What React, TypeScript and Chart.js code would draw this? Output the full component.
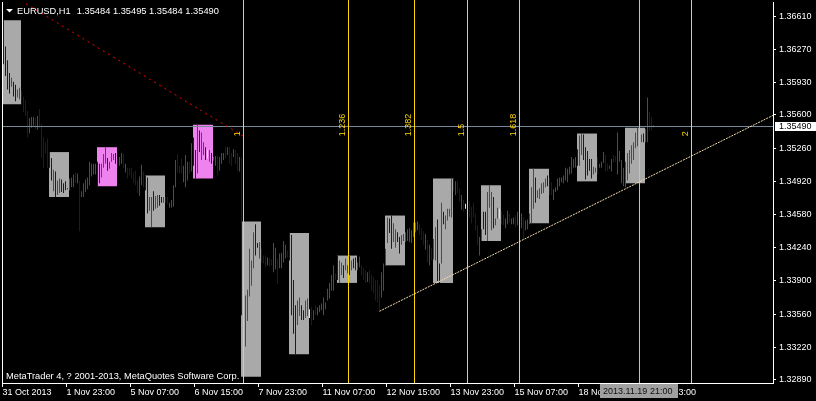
import React, { useEffect, useRef } from 'react';
import { Chart, registerables } from 'chart.js';

Chart.register(...registerables);

// ---------------- data ----------------
const symbolTitle = 'EURUSD,H1';
const lastBarQuote = ['1.35484', '1.35495', '1.35484', '1.35490'];
const copyrightNote = 'MetaTrader 4, ? 2001-2013, MetaQuotes Software Corp.';

// H1 bars, index 0 = 31 Oct 2013 15:00
const barHighs = [
  1.3657, 1.3630, 1.3616, 1.3603, 1.3598, 1.3594, 1.3591, 1.3586, 1.3588, 1.3585,
  1.3579, 1.3575, 1.3564, 1.3557, 1.3558, 1.3558, 1.3557, 1.3559, 1.3566, 1.3551,
  1.3537, 1.3532, 1.3536, 1.3522, 1.3516, 1.3504, 1.3502, 1.3493, 1.3495, 1.3494,
  1.3490, 1.3492, 1.3485, 1.3495, 1.3496, 1.3499, 1.3501, 1.3500, 1.3493, 1.3482,
  1.3490, 1.3494, 1.3496, 1.3512, 1.3510, 1.3510, 1.3510, 1.3512, 1.3510, 1.3510,
  1.3520, 1.3527, 1.3516, 1.3512, 1.3521, 1.3520, 1.3521, 1.3515, 1.3517, 1.3521,
  1.3520, 1.3510, 1.3506, 1.3506, 1.3506, 1.3501, 1.3503, 1.3493, 1.3497, 1.3509,
  1.3502, 1.3498, 1.3496, 1.3476, 1.3476, 1.3482, 1.3477, 1.3478, 1.3478, 1.3476,
  1.3476, 1.3476, 1.3476, 1.3470, 1.3473, 1.3488, 1.3514, 1.3520, 1.3508, 1.3515,
  1.3508, 1.3519, 1.3512, 1.3512, 1.3531, 1.3537, 1.3524, 1.3550, 1.3544, 1.3542,
  1.3532, 1.3527, 1.3524, 1.3524, 1.3521, 1.3517, 1.3518, 1.3519, 1.3517, 1.3521,
  1.3521, 1.3528, 1.3527, 1.3527, 1.3521, 1.3525, 1.3524, 1.3521, 1.3517, 1.3516,
  1.3451, 1.3375, 1.3381, 1.3423, 1.3411, 1.3440, 1.3448, 1.3429, 1.3430, 1.3423,
  1.3416, 1.3416, 1.3414, 1.3413, 1.3412, 1.3429, 1.3424, 1.3413, 1.3418, 1.3419,
  1.3431, 1.3427, 1.3421, 1.3440, 1.3437, 1.3391, 1.3365, 1.3370, 1.3373, 1.3365,
  1.3360, 1.3370, 1.3372, 1.3361, 1.3363, 1.3360, 1.3365, 1.3363, 1.3365, 1.3367,
  1.3373, 1.3368, 1.3382, 1.3388, 1.3396, 1.3406, 1.3398, 1.3416, 1.3411, 1.3409,
  1.3406, 1.3413, 1.3406, 1.3416, 1.3411, 1.3413, 1.3414, 1.3409, 1.3415, 1.3406,
  1.3403, 1.3401, 1.3399, 1.3401, 1.3396, 1.3394, 1.3391, 1.3391, 1.3386, 1.3399,
  1.3408, 1.3423, 1.3455, 1.3454, 1.3457, 1.3449, 1.3443, 1.3440, 1.3435, 1.3437,
  1.3438, 1.3440, 1.3443, 1.3444, 1.3442, 1.3450, 1.3450, 1.3451, 1.3448, 1.3444,
  1.3441, 1.3438, 1.3432, 1.3427, 1.3424, 1.3433, 1.3445, 1.3453, 1.3408, 1.3470,
  1.3461, 1.3457, 1.3464, 1.3464, 1.3495, 1.3496, 1.3492, 1.3492, 1.3485, 1.3478,
  1.3473, 1.3469, 1.3471, 1.3472, 1.3466, 1.3470, 1.3459, 1.3447, 1.3435, 1.3443,
  1.3461, 1.3461, 1.3481, 1.3488, 1.3481, 1.3476, 1.3454, 1.3465, 1.3464, 1.3462,
  1.3458, 1.3454, 1.3462, 1.3459, 1.3454, 1.3455, 1.3457, 1.3461, 1.3460, 1.3459,
  1.3455, 1.3452, 1.3453, 1.3459, 1.3486, 1.3505, 1.3496, 1.3483, 1.3485, 1.3490,
  1.3491, 1.3495, 1.3498, 1.3496, 1.3491, 1.3484, 1.3486, 1.3495, 1.3496, 1.3496,
  1.3498, 1.3506, 1.3505, 1.3507, 1.3517, 1.3515, 1.3517, 1.3525, 1.3539, 1.3541,
  1.3540, 1.3527, 1.3523, 1.3515, 1.3515, 1.3507, 1.3506, 1.3517, 1.3510, 1.3512,
  1.3522, 1.3519, 1.3510, 1.3508, 1.3515, 1.3519, 1.3518, 1.3542, 1.3523, 1.3514,
  1.3506, 1.3512, 1.3521, 1.3524, 1.3529, 1.3532, 1.3542, 1.3547, 1.3544, 1.3540,
  1.3541, 1.3546, 1.3578, 1.3563, 1.3558, 1.35495,
];

const barLows = [
  1.3612, 1.3600, 1.3586, 1.3582, 1.3589, 1.3579, 1.3574, 1.3578, 1.3576, 1.3571,
  1.3563, 1.3559, 1.3537, 1.3541, 1.3547, 1.3549, 1.3545, 1.3545, 1.3547, 1.3516,
  1.3506, 1.3521, 1.3506, 1.3506, 1.3493, 1.3482, 1.3476, 1.3478, 1.3480, 1.3481,
  1.3480, 1.3483, 1.3484, 1.3483, 1.3486, 1.3486, 1.3490, 1.3490, 1.3441, 1.3476,
  1.3476, 1.3481, 1.3484, 1.3488, 1.3497, 1.3499, 1.3499, 1.3487, 1.3490, 1.3496,
  1.3506, 1.3510, 1.3503, 1.3505, 1.3512, 1.3514, 1.3510, 1.3506, 1.3508, 1.3510,
  1.3506, 1.3501, 1.3495, 1.3498, 1.3495, 1.3490, 1.3488, 1.3480, 1.3477, 1.3488,
  1.3486, 1.3483, 1.3459, 1.3462, 1.3445, 1.3462, 1.3464, 1.3465, 1.3467, 1.3470,
  1.3470, 1.3470, 1.3469, 1.3465, 1.3465, 1.3466, 1.3486, 1.3501, 1.3500, 1.3500,
  1.3491, 1.3486, 1.3493, 1.3500, 1.3502, 1.3508, 1.3495, 1.3500, 1.3522, 1.3514,
  1.3519, 1.3514, 1.3516, 1.3512, 1.3510, 1.3513, 1.3508, 1.3498, 1.3503, 1.3510,
  1.3514, 1.3516, 1.3519, 1.3510, 1.3508, 1.3517, 1.3510, 1.3503, 1.3502, 1.3355,
  1.3292, 1.3323, 1.3349, 1.3374, 1.3385, 1.3403, 1.3416, 1.3424, 1.3413, 1.3409,
  1.3408, 1.3404, 1.3406, 1.3405, 1.3406, 1.3399, 1.3402, 1.3387, 1.3403, 1.3403,
  1.3409, 1.3413, 1.3414, 1.3411, 1.3355, 1.3336, 1.3315, 1.3345, 1.3354, 1.3350,
  1.3350, 1.3352, 1.3354, 1.3352, 1.3345, 1.3350, 1.3355, 1.3355, 1.3358, 1.3360,
  1.3355, 1.3361, 1.3370, 1.3372, 1.3380, 1.3380, 1.3391, 1.3391, 1.3388, 1.3396,
  1.3393, 1.3401, 1.3398, 1.3396, 1.3401, 1.3403, 1.3401, 1.3401, 1.3404, 1.3396,
  1.3391, 1.3388, 1.3389, 1.3388, 1.3380, 1.3378, 1.3370, 1.3368, 1.3359, 1.3373,
  1.3380, 1.3406, 1.3429, 1.3439, 1.3423, 1.3430, 1.3424, 1.3430, 1.3418, 1.3427,
  1.3431, 1.3430, 1.3431, 1.3430, 1.3429, 1.3435, 1.3440, 1.3442, 1.3437, 1.3432,
  1.3427, 1.3422, 1.3409, 1.3406, 1.3411, 1.3412, 1.3411, 1.3390, 1.3388, 1.3408,
  1.3448, 1.3443, 1.3452, 1.3456, 1.3455, 1.3482, 1.3478, 1.3480, 1.3471, 1.3463,
  1.3461, 1.3464, 1.3460, 1.3455, 1.3449, 1.3455, 1.3442, 1.3427, 1.3416, 1.3431,
  1.3443, 1.3437, 1.3431, 1.3465, 1.3442, 1.3444, 1.3447, 1.3454, 1.3454, 1.3448,
  1.3447, 1.3444, 1.3448, 1.3450, 1.3448, 1.3448, 1.3445, 1.3447, 1.3445, 1.3444,
  1.3433, 1.3442, 1.3443, 1.3448, 1.3449, 1.3464, 1.3470, 1.3475, 1.3474, 1.3479,
  1.3480, 1.3486, 1.3487, 1.3478, 1.3478, 1.3473, 1.3481, 1.3483, 1.3487, 1.3491,
  1.3490, 1.3493, 1.3491, 1.3499, 1.3500, 1.3506, 1.3506, 1.3508, 1.3508, 1.3519,
  1.3514, 1.3494, 1.3498, 1.3503, 1.3495, 1.3499, 1.3501, 1.3499, 1.3506, 1.3506,
  1.3511, 1.3502, 1.3503, 1.3505, 1.3502, 1.3511, 1.3512, 1.3499, 1.3512, 1.3490,
  1.3487, 1.3486, 1.3493, 1.3500, 1.3510, 1.3514, 1.3526, 1.3528, 1.3534, 1.3532,
  1.3532, 1.3532, 1.3532, 1.3544, 1.3544, 1.35484,
];

// u = close above open (red), d = close below open (blue), n = unchanged (yellow)
const barDirections =
  'ddddudduud' + 'ddduuududd' + 'ddddduduud' + 'ddduuududu' + 'uuuuuuuddu' +
  'uuduuudduu' + 'dudddddduu' + 'ddduuduudd' + 'udduuuuddd' + 'uuududdudu' +
  'udnuduuduu' + 'ududduddud' + 'duuuuuddud' + 'ddudduuduu' + 'uuddddduud' +
  'duunduduuu' + 'uuuuuudduu' + 'duududduud' + 'dduddddddu' + 'uuudduuddu' +
  'uuuuuuuudd' + 'dududuuddu' + 'duuuududdu' + 'dndddddduu' + 'dduuuduund' +
  'duuduuduuu' + 'duuuuuduuu' + 'uuddduuuuu' + 'uuuuuuuduu' + 'ddddduuduu' +
  'udduudduuu' + 'uuuuuuuuuu' + 'duuddu';

// 14:00-24:00 session boxes
const sessionStartBars = [-1, 23, 47, 71, 95, 119, 143, 167, 191, 215, 239, 263, 287, 311];
const sessionHighs = [1.3657, 1.3522, 1.3527, 1.3498, 1.3550, 1.3451, 1.3439, 1.3416, 1.3457, 1.3495, 1.3488, 1.3505, 1.3541, 1.3547];
const sessionLows = [1.3571, 1.3476, 1.3487, 1.3445, 1.3495, 1.3292, 1.3315, 1.3388, 1.3406, 1.3388, 1.3431, 1.3449, 1.3492, 1.3490];
const sessionKinds = 'ggpgpggggggggg';

const priceTicks = [1.3661, 1.3627, 1.3593, 1.356, 1.3526, 1.3492, 1.3458, 1.3424, 1.339, 1.3356, 1.3322, 1.3289];
const timeTickBars = [0, 32, 64, 96, 128, 160, 192, 224, 256, 288, 320];
const timeTickLabels = [
  '31 Oct 2013', '1 Nov 23:00', '5 Nov 07:00', '6 Nov 15:00', '7 Nov 23:00', '11 Nov 07:00',
  '12 Nov 15:00', '13 Nov 23:00', '15 Nov 07:00', '18 Nov 15:00', '19 Nov 23:00',
];

const bidPrice = 1.3549;
const fibAnchorBars = [-104, 120];
const fibAnchorPrices = [1.38177, 1.35381];
const fibLevels = [0, 1, 1.236, 1.382, 1.5, 1.618, 2];
const trendAnchorBars = [188, 322];
const trendAnchorPrices = [1.3359, 1.34956];
const cursorBar = 318;
const cursorTimeLabel = '2013.11.19 21:00';

// ---------------- styling ----------------
const FONT = "'Liberation Sans', Arial, sans-serif";
const C = {
  up: '#FF0000',
  down: '#0000FF',
  flat: '#FFFF00',
  boxGray: '#A9A9A9',
  boxPink: '#EE82EE',
  fib: '#FFD700',
  fibBase: '#FF0000',
  trend: '#F5DEB3',
  bid: '#778899',
  cursor: '#C0C0C0',
  fg: '#FFFFFF',
};

const mt4Plugin = {
  id: 'mt4Plugin',
  beforeDraw(chart: any) {
    const { ctx, width, height } = chart;
    ctx.save();
    ctx.fillStyle = '#000000';
    ctx.fillRect(0, 0, width, height);
    ctx.restore();
  },
  afterDatasetsDraw(chart: any) {
    const { ctx, chartArea: a } = chart;
    const xs = chart.scales.x;
    const ys = chart.scales.y;
    const col = (v: number) => Math.floor(xs.getPixelForValue(v) - 0.5);

    ctx.save();
    ctx.beginPath();
    ctx.rect(a.left, 0, a.right - a.left, a.bottom);
    ctx.clip();

    // bid line
    const by = Math.round(ys.getPixelForValue(bidPrice));
    ctx.fillStyle = C.bid;
    ctx.fillRect(a.left, by, a.right - a.left, 1);

    // fibonacci time zones
    const span = fibAnchorBars[1] - fibAnchorBars[0];
    ctx.fillStyle = C.fib;
    fibLevels.forEach((l) => {
      ctx.fillRect(col(fibAnchorBars[0] + l * span), 0, 1, a.bottom);
    });

    // fib base line (dotted red)
    ctx.save();
    ctx.beginPath();
    ctx.rect(a.left, a.top, a.right - a.left, a.bottom - a.top);
    ctx.clip();
    ctx.strokeStyle = C.fibBase;
    ctx.lineWidth = 1;
    ctx.setLineDash([2, 4]);
    ctx.beginPath();
    ctx.moveTo(xs.getPixelForValue(fibAnchorBars[0]), ys.getPixelForValue(fibAnchorPrices[0]));
    ctx.lineTo(xs.getPixelForValue(fibAnchorBars[1]), ys.getPixelForValue(fibAnchorPrices[1]));
    ctx.stroke();

    // trend line (ray)
    const tx1 = xs.getPixelForValue(trendAnchorBars[0]);
    const ty1 = ys.getPixelForValue(trendAnchorPrices[0]);
    const tx2 = xs.getPixelForValue(trendAnchorBars[1]);
    const ty2 = ys.getPixelForValue(trendAnchorPrices[1]);
    const slope = (ty2 - ty1) / (tx2 - tx1);
    ctx.strokeStyle = C.trend;
    ctx.setLineDash([2, 1]);
    ctx.beginPath();
    ctx.moveTo(tx1, ty1);
    ctx.lineTo(a.right, ty1 + slope * (a.right - tx1));
    ctx.stroke();
    ctx.restore();

    // fib labels
    ctx.font = `9px ${FONT}`;
    ctx.fillStyle = C.fib;
    const ly = ys.getPixelForValue(fibAnchorPrices[1]);
    fibLevels.forEach((l) => {
      const c = col(fibAnchorBars[0] + l * span);
      ctx.save();
      ctx.translate(c - 3, ly);
      ctx.rotate(-Math.PI / 2);
      ctx.textAlign = 'left';
      ctx.textBaseline = 'alphabetic';
      ctx.fillText(String(l), 0, 0);
      ctx.restore();
    });

    // cursor line
    ctx.fillStyle = C.cursor;
    ctx.fillRect(col(cursorBar), 0, 1, a.bottom);
    ctx.restore();

    // left frame line
    ctx.fillStyle = C.fg;
    ctx.fillRect(a.left, a.top, 1, a.bottom - a.top);
  },
  afterDraw(chart: any) {
    const { ctx, chartArea: a } = chart;
    const xs = chart.scales.x;
    const ys = chart.scales.y;
    ctx.save();

    // title
    ctx.fillStyle = C.fg;
    ctx.beginPath();
    ctx.moveTo(6, 9);
    ctx.lineTo(13, 9);
    ctx.lineTo(9.5, 12.5);
    ctx.closePath();
    ctx.fill();
    ctx.font = `9.3px ${FONT}`;
    ctx.textAlign = 'left';
    ctx.textBaseline = 'alphabetic';
    ctx.fillText(symbolTitle, 17, 14);
    const qx = 17 + ctx.measureText(symbolTitle).width + 6;
    ctx.fillText(lastBarQuote.join(' '), qx, 14);

    // copyright
    ctx.fillText(copyrightNote, 6, 379);

    // bid price label
    const by = Math.round(ys.getPixelForValue(bidPrice));
    ctx.fillStyle = '#FFFFFF';
    ctx.fillRect(a.right + 2, by - 4, chart.width - a.right - 2, 9);
    ctx.fillStyle = '#000000';
    ctx.font = `9px ${FONT}`;
    ctx.textBaseline = 'middle';
    ctx.fillText(bidPrice.toFixed(5), a.right + 6, by + 0.5);

    // cursor time label
    const cx = Math.floor(xs.getPixelForValue(cursorBar) - 0.5);
    ctx.fillStyle = '#A0A0A0';
    ctx.fillRect(cx - 39, a.bottom + 1, 78, 14);
    ctx.fillStyle = '#101010';
    ctx.fillText(cursorTimeLabel, cx - 36, a.bottom + 8.5);

    ctx.restore();
  },
};

export default function App() {
  const ref = useRef<HTMLCanvasElement>(null);

  useEffect(() => {
    const canvas = ref.current;
    if (!canvas) return;

    const barData = barHighs.map((h, i) => ({ x: i, y: [barLows[i], h] }));
    const barColors = barHighs.map((_, i) => {
      const d = barDirections[i];
      return d === 'u' ? C.up : d === 'n' ? C.flat : C.down;
    });
    const boxData = sessionStartBars.map((s, k) => ({ x: s + 4.75, y: [sessionLows[k], sessionHighs[k]] }));
    const boxColors = sessionStartBars.map((_, k) => (sessionKinds[k] === 'p' ? C.boxPink : C.boxGray));

    const chart = new Chart(canvas, {
      type: 'bar',
      data: {
        datasets: [
          {
            label: 'EURUSD H1',
            data: barData as any,
            backgroundColor: barColors,
            borderWidth: 0,
            barThickness: 1,
            grouped: false,
            inflateAmount: 0,
            order: 0,
          } as any,
          {
            label: 'Sessions',
            data: boxData as any,
            backgroundColor: boxColors,
            borderWidth: 0,
            barThickness: 20,
            grouped: false,
            inflateAmount: 0,
            order: 1,
          } as any,
        ],
      },
      options: {
        responsive: false,
        devicePixelRatio: 1,
        animation: false,
        events: [],
        layout: { padding: { left: 2, top: 2, right: 0, bottom: 0 } },
        plugins: {
          legend: { display: false },
          tooltip: { enabled: false },
        },
        scales: {
          x: {
            type: 'linear',
            position: 'bottom',
            min: -0.75,
            max: 384.75,
            bounds: 'data',
            offset: false,
            afterBuildTicks: (s: any) => {
              s.ticks = timeTickBars.map((b) => ({ value: b - 0.5 }));
            },
            afterFit: (s: any) => {
              s.height = 18;
              s.paddingLeft = 0;
              s.paddingRight = 0;
            },
            grid: { drawOnChartArea: false, drawTicks: true, tickLength: 4, color: C.fg, offset: false },
            border: { display: true, color: C.fg, width: 1 },
            ticks: {
              color: C.fg,
              font: { family: FONT, size: 9 },
              padding: 0,
              align: 'start',
              maxRotation: 0,
              minRotation: 0,
              autoSkip: false,
              callback: (_v: any, i: number) => timeTickLabels[i] ?? '',
            },
          } as any,
          y: {
            type: 'linear',
            position: 'right',
            min: 1.32855,
            max: 1.36757,
            bounds: 'data',
            afterBuildTicks: (s: any) => {
              s.ticks = priceTicks.map((v) => ({ value: v }));
            },
            afterFit: (s: any) => {
              s.width = 43;
              s.paddingTop = 0;
              s.paddingBottom = 0;
            },
            grid: { drawOnChartArea: false, drawTicks: true, tickLength: 3, color: C.fg },
            border: { display: true, color: C.fg, width: 1 },
            ticks: {
              color: C.fg,
              font: { family: FONT, size: 9 },
              padding: 3,
              autoSkip: false,
              callback: (v: any) => Number(v).toFixed(5),
            },
          } as any,
        },
      },
      plugins: [mt4Plugin],
    });

    return () => chart.destroy();
  }, []);

  return (
    <div style={{ position: 'fixed', left: 0, top: 0, width: 816, height: 401, background: '#000' }}>
      <canvas ref={ref} width={816} height={401} style={{ display: 'block' }} />
    </div>
  );
}
